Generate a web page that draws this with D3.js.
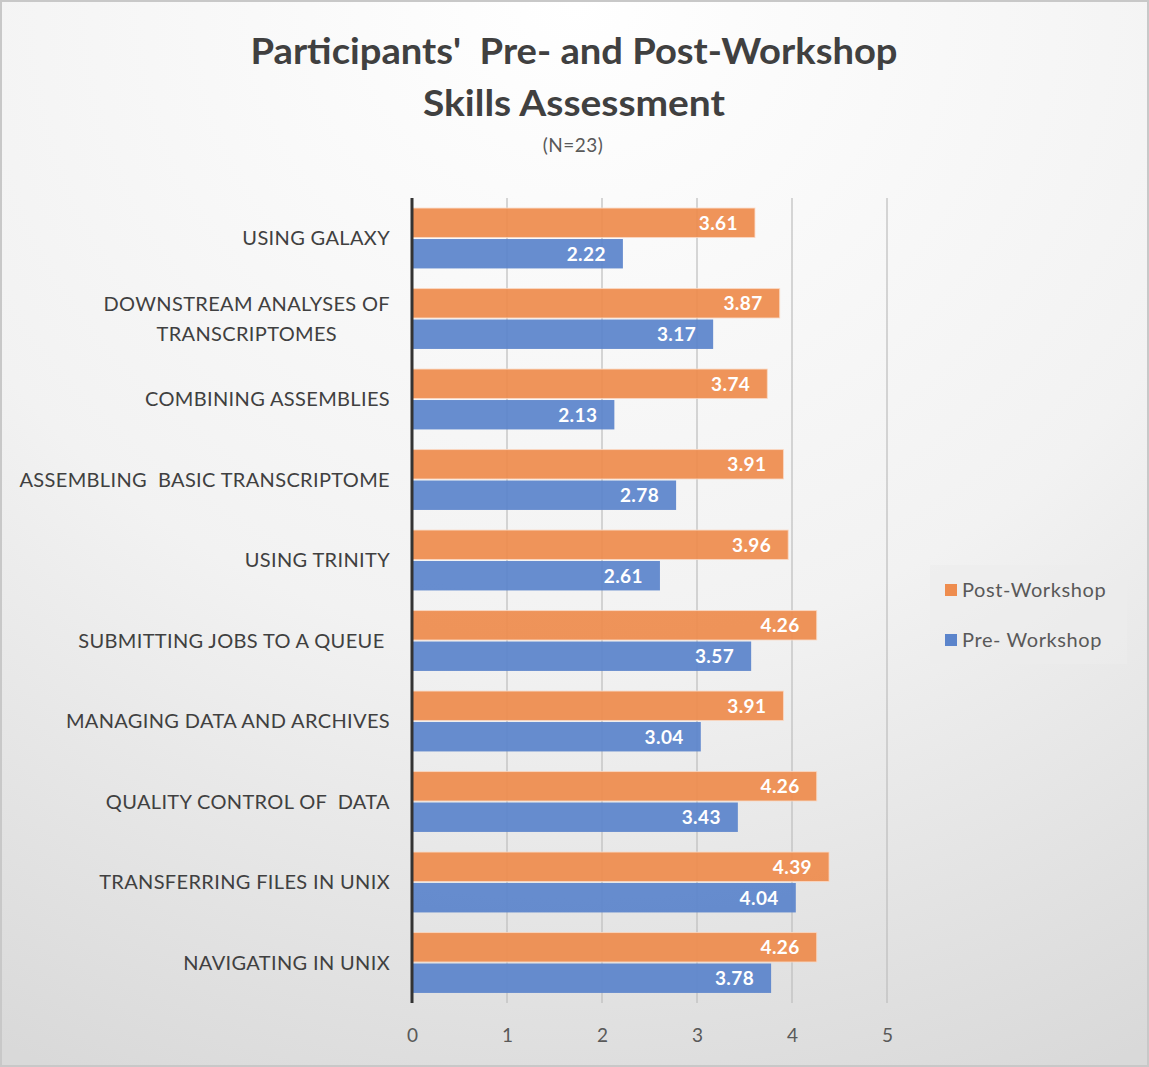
<!DOCTYPE html>
<html>
<head>
<meta charset="utf-8">
<script src="https://cdn.jsdelivr.net/npm/d3@7"></script>
<style>
  body { margin: 0; background: #fff; }
  svg { display: block; }
  text { white-space: pre; }
</style>
</head>
<body>
<div id="chart"></div>
<script>
// categories top to bottom, lines split where the label wraps
var categories = [
  ["USING GALAXY"],
  ["DOWNSTREAM ANALYSES OF", "TRANSCRIPTOMES"],
  ["COMBINING ASSEMBLIES"],
  ["ASSEMBLING  BASIC TRANSCRIPTOME"],
  ["USING TRINITY"],
  ["SUBMITTING JOBS TO A QUEUE "],
  ["MANAGING DATA AND ARCHIVES"],
  ["QUALITY CONTROL OF  DATA"],
  ["TRANSFERRING FILES IN UNIX"],
  ["NAVIGATING IN UNIX"]
];
var postWorkshop = [3.61, 3.87, 3.74, 3.91, 3.96, 4.26, 3.91, 4.26, 4.39, 4.26];
var preWorkshop  = [2.22, 3.17, 2.13, 2.78, 2.61, 3.57, 3.04, 3.43, 4.04, 3.78];
var seriesNames = ["Post-Workshop", "Pre- Workshop"];
var xTicks = [0, 1, 2, 3, 4, 5];

var width = 1149, height = 1067;
var orange = "#ee8c4e", blue = "#5b84cb";
var labelFont = "Lato, 'Open Sans', sans-serif";

var svg = d3.select("#chart").append("svg")
    .attr("width", width)
    .attr("height", height);

var defs = svg.append("defs");
var grad = defs.append("radialGradient")
    .attr("id", "bg")
    .attr("cx", "50%").attr("cy", "0%").attr("r", "110%");
grad.append("stop").attr("offset", "0%").attr("stop-color", "#ffffff");
grad.append("stop").attr("offset", "55%").attr("stop-color", "#f2f2f2");
grad.append("stop").attr("offset", "100%").attr("stop-color", "#d9d9d9");

svg.append("rect")
    .attr("x", 1).attr("y", 1)
    .attr("width", width - 2).attr("height", height - 2)
    .style("fill", "url(#bg)")
    .style("stroke", "#c8c8c8")
    .style("stroke-width", 2);

// titles
svg.append("text")
    .attr("x", 574).attr("y", 64)
    .attr("text-anchor", "middle")
    .attr("textLength", 647)
    .attr("lengthAdjust", "spacingAndGlyphs")
    .style("font-family", labelFont)
    .style("font-weight", "bold")
    .style("font-size", "37px")
    .style("fill", "#404040")
    .text("Participants'  Pre- and Post-Workshop");
svg.append("text")
    .attr("x", 574).attr("y", 116)
    .attr("text-anchor", "middle")
    .attr("textLength", 302)
    .attr("lengthAdjust", "spacingAndGlyphs")
    .style("font-family", labelFont)
    .style("font-weight", "bold")
    .style("font-size", "37px")
    .style("fill", "#404040")
    .text("Skills Assessment");
svg.append("text")
    .attr("x", 573).attr("y", 152)
    .attr("text-anchor", "middle")
    .style("font-family", labelFont)
    .style("font-size", "19px")
    .style("letter-spacing", "0.5px")
    .style("fill", "#595959")
    .text("(N=23)");

var x = d3.scaleLinear().domain([0, 5]).range([412, 887]);
var y = d3.scaleBand().domain(d3.range(categories.length)).range([198, 1003]).paddingInner(0.25).paddingOuter(0.125);
var sub = d3.scaleBand().domain([0, 1]).range([0, y.bandwidth()]).paddingInner(0.05);

// gridlines
svg.append("g").selectAll("line")
    .data(xTicks.slice(1))
    .join("line")
    .attr("x1", d => x(d)).attr("x2", d => x(d))
    .attr("y1", 198).attr("y2", 1003)
    .style("stroke", "#bdbdbd")
    .style("stroke-width", 1.2);

// x axis labels
var xAxis = svg.append("g")
    .attr("transform", "translate(0,1003)")
    .call(d3.axisBottom(x).tickValues(xTicks).tickFormat(d3.format("d")).tickSize(0).tickPadding(26));
xAxis.select(".domain").remove();
xAxis.selectAll("text")
    .style("font-family", labelFont)
    .style("font-size", "19px")
    .style("fill", "#595959");

var series = [postWorkshop, preWorkshop];
var colors = [orange, blue];

series.forEach(function(vals, s) {
    var g = svg.append("g");
    g.selectAll("rect")
        .data(vals)
        .join("rect")
        .attr("x", x(0))
        .attr("y", (d, i) => y(i) + sub(s))
        .attr("width", d => x(d) - x(0))
        .attr("height", sub.bandwidth())
        .style("fill", colors[s])
        .style("fill-opacity", 0.93)
        .style("stroke", "#fbd9c4")
        .style("stroke-opacity", s == 0 ? 0.8 : 0)
        .style("stroke-width", 1);
    g.selectAll("text")
        .data(vals)
        .join("text")
        .attr("x", d => x(d) - 17)
        .attr("y", (d, i) => y(i) + sub(s) + sub.bandwidth() / 2)
        .attr("dy", "0.36em")
        .attr("text-anchor", "end")
        .style("font-family", labelFont)
        .style("font-weight", "bold")
        .style("font-size", "19px")
        .style("letter-spacing", "0.4px")
        .style("fill", "#ffffff")
        .text(d => d3.format(".2f")(d));
});

// vertical axis line
svg.append("line")
    .attr("x1", x(0)).attr("x2", x(0))
    .attr("y1", 198).attr("y2", 1003)
    .style("stroke", "#333")
    .style("stroke-width", 3);

// category labels
var cat = svg.append("g").selectAll("text")
    .data(categories)
    .join("text")
    .attr("text-anchor", "end")
    .style("font-family", labelFont)
    .style("font-size", "20px")
    .style("letter-spacing", "0.35px")
    .style("fill", "#404040")
    .attr("y", (d, i) => y(i) + y.bandwidth() / 2 - (d.length - 1) * 15);
cat.selectAll("tspan")
    .data(d => d)
    .join("tspan")
    .attr("x", 390)
    .attr("dy", (d, i) => i == 0 ? "0.36em" : "30px")
    .text(d => d);
// centre wrapped second lines under the first
cat.each(function(d) {
    if (d.length < 2) return;
    var spans = d3.select(this).selectAll("tspan").nodes();
    var w0 = spans[0].getComputedTextLength();
    var w1 = spans[1].getComputedTextLength();
    d3.select(spans[1]).attr("x", 390 - (w0 - w1) / 2);
});

// legend
var legend = svg.append("g");
legend.append("rect")
    .attr("x", 930).attr("y", 565)
    .attr("width", 197).attr("height", 99)
    .style("fill", "#ececec")
    .style("fill-opacity", 0.6);
seriesNames.forEach(function(name, i) {
    var ly = 590 + i * 50;
    legend.append("rect")
        .attr("x", 945).attr("y", ly - 6)
        .attr("width", 12).attr("height", 12)
        .style("fill", colors[i]);
    legend.append("text")
        .attr("x", 962).attr("y", ly)
        .attr("dy", "0.36em")
        .style("font-family", labelFont)
        .style("font-size", "20px")
        .style("letter-spacing", "0.6px")
        .style("fill", "#595959")
        .text(name);
});
</script>
</body>
</html>
